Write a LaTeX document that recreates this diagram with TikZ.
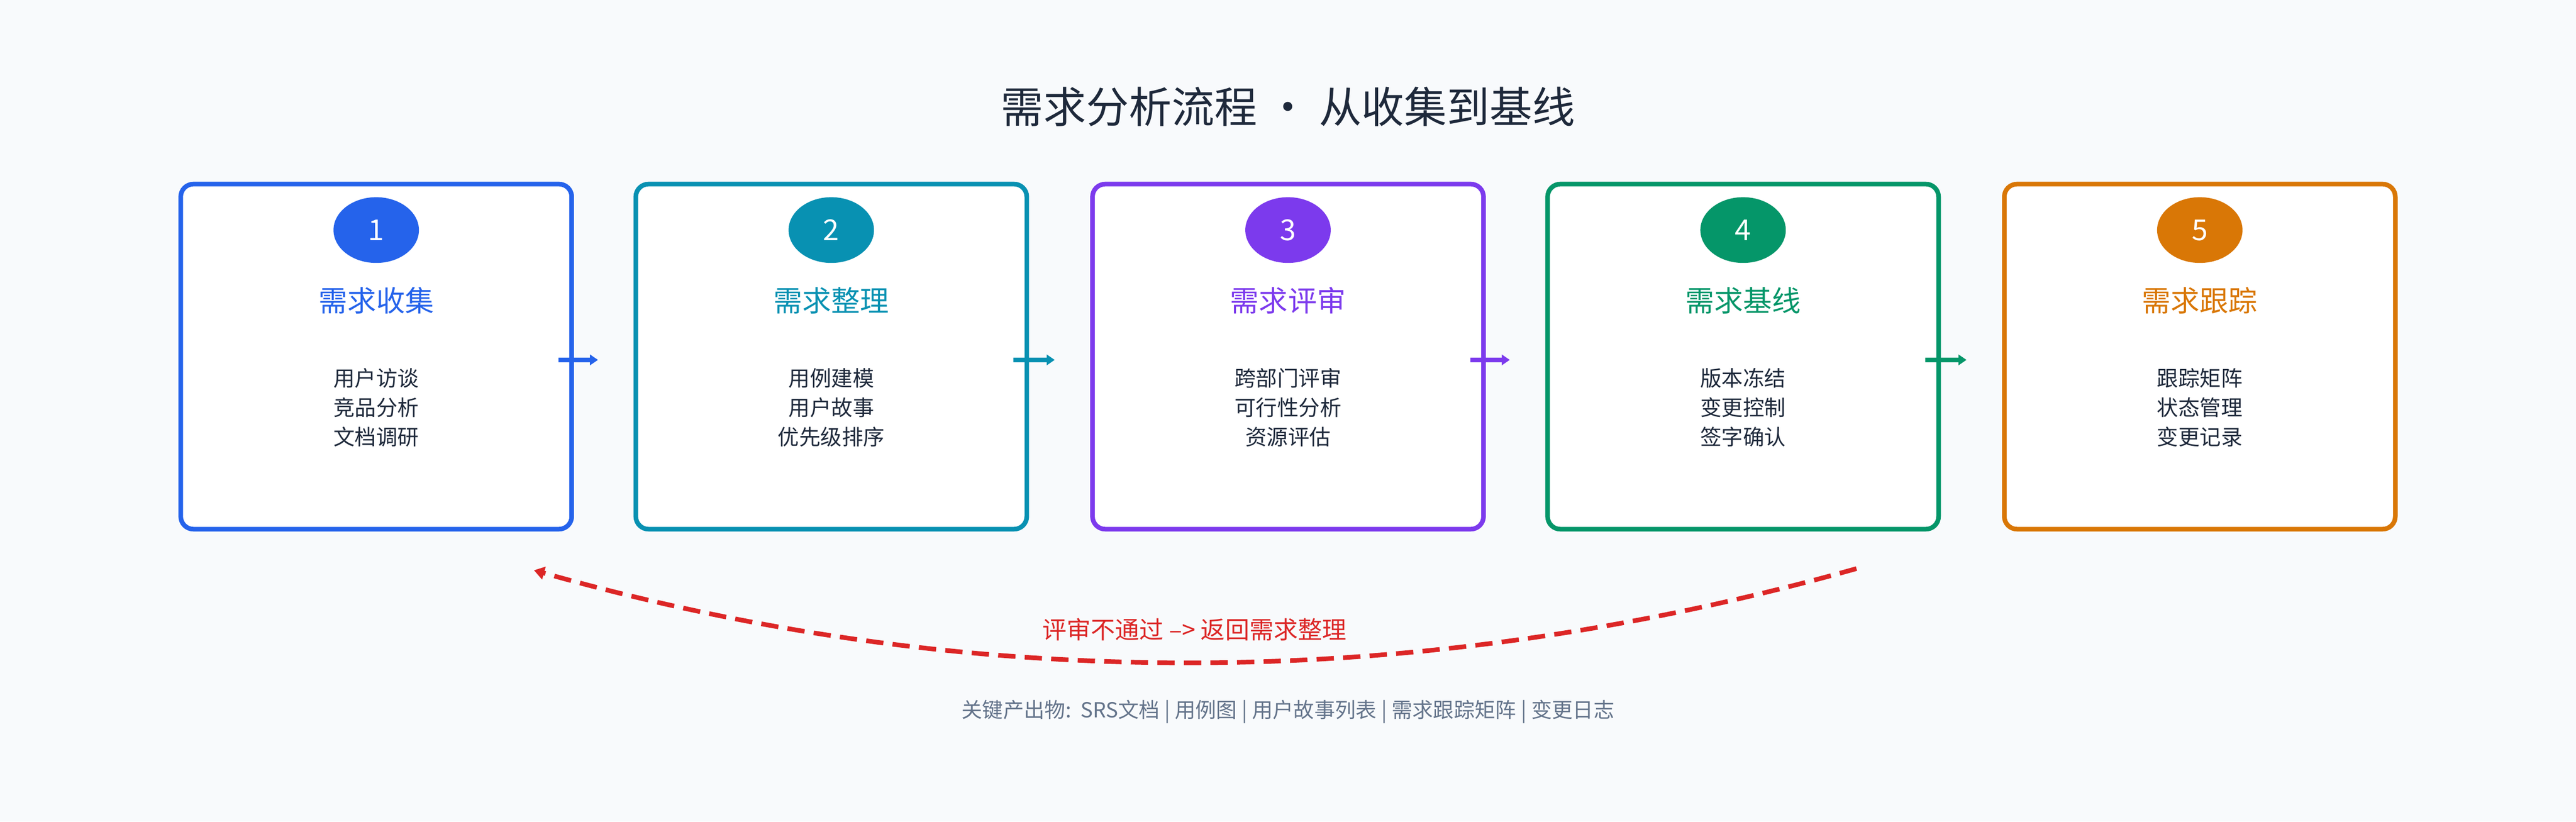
\documentclass[tikz,border=0pt]{standalone}
\usepackage{fontspec}
\setmainfont{Noto Sans CJK SC}
\usetikzlibrary{arrows.meta,shapes.geometric}
\definecolor{bg}{HTML}{F8FAFC}
\definecolor{cA}{HTML}{2563EB}
\definecolor{cB}{HTML}{0891B2}
\definecolor{cC}{HTML}{7C3AED}
\definecolor{cD}{HTML}{059669}
\definecolor{cE}{HTML}{D97706}
\definecolor{red}{HTML}{DC2626}
\definecolor{dark}{HTML}{1E293B}
\definecolor{gray}{HTML}{64748B}
\tikzset{
 box/.style={draw=#1,line width=8pt,rounded corners=22pt,fill=white,minimum width=23.8cm,minimum height=21cm},
 num/.style={ellipse,fill=#1,minimum width=5.2cm,minimum height=4cm,text=white,font=\fontsize{50}{60}\selectfont},
 ttl/.style={text=#1,font=\fontsize{50}{60}\selectfont},
 items/.style={text=dark,align=center,font=\fontsize{37}{51}\selectfont},
 flow/.style={draw=#1,line width=8pt,-{Triangle[length=14pt,width=18pt]}}
}
\begin{document}
\begin{tikzpicture}[x=0.1cm,y=-0.1cm]
\fill[bg] (0,0) rectangle (1568,500);
\useasboundingbox (0,0) rectangle (1568,500);
\node[text=dark,font=\fontsize{74}{88}\selectfont] (title) at (784,65) {需求分析流程 · 从收集到基线};
\foreach \i/\x/\c/\t/\a/\b/\d in {1/229/cA/需求收集/用户访谈/竞品分析/文档调研,2/506/cB/需求整理/用例建模/用户故事/优先级排序,3/784/cC/需求评审/跨部门评审/可行性分析/资源评估,4/1061/cD/需求基线/版本冻结/变更控制/签字确认,5/1339/cE/需求跟踪/跟踪矩阵/状态管理/变更记录}{
 \node[box=\c] (b\i) at (\x,217) {};
 \node[num=\c] (n\i) at (\x,140) {\i};
 \node[ttl=\c] (t\i) at (\x,183) {\t};
 \node[items] (l\i) at (\x,248) {\a\\\b\\\d};
}
\coordinate (s1) at (340,219); \coordinate (e1) at (364,219);
\coordinate (s2) at (617,219); \coordinate (e2) at (642,219);
\coordinate (s3) at (895,219); \coordinate (e3) at (919,219);
\coordinate (s4) at (1172,219); \coordinate (e4) at (1197,219);
\draw[flow=cA] (s1) -- (e1);
\draw[flow=cB] (s2) -- (e2);
\draw[flow=cC] (s3) -- (e3);
\draw[flow=cD] (s4) -- (e4);
\coordinate (rs) at (1130,346); \coordinate (re) at (325,347);
\draw[red,line width=8pt,dash pattern=on 30pt off 16pt,-{Triangle[length=18pt,width=22pt]}] (rs) .. controls (860,422) and (590,422) .. (re);
\node[text=red,font=\fontsize{42}{50}\selectfont] (rl) at (727,383) {评审不通过 --> 返回需求整理};
\node[text=gray,font=\fontsize{36}{44}\selectfont] (foot) at (784,433) {关键产出物:\ \ SRS文档 | 用例图 | 用户故事列表 | 需求跟踪矩阵 | 变更日志};
\end{tikzpicture}
\end{document}
